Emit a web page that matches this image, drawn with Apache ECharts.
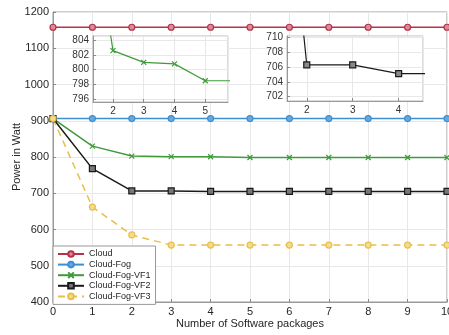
<!DOCTYPE html>
<html>
<head>
<meta charset="utf-8">
<script src="https://cdn.jsdelivr.net/npm/echarts@6/dist/echarts.min.js"></script>
<style>
  html, body { margin: 0; padding: 0; background: #fff; }
  #chart { width: 449px; height: 335px; }
</style>
</head>
<body>
<div id="chart"></div>
<script>
  // values
  const packages = [0, 1, 2, 3, 4, 5, 6, 7, 8, 9, 10];
  const cloud    = [1158, 1158, 1158, 1158, 1158, 1158, 1158, 1158, 1158, 1158, 1158];
  const cloudFog = [906, 906, 906, 906, 906, 906, 906, 906, 906, 906, 906];
  const vf1      = [906, 830, 802.6, 801.0, 800.8, 798.5, 798.5, 798.5, 798.5, 798.5, 798.5];
  const vf2      = [906, 768, 706.3, 706.3, 705.1, 705.1, 705.1, 705.1, 705.1, 705.1, 705.1];
  const vf3      = [906, 662, 585, 557, 557, 557, 557, 557, 557, 557, 557];
  const names    = ['Cloud', 'Cloud-Fog', 'Cloud-Fog-VF1', 'Cloud-Fog-VF2', 'Cloud-Fog-VF3'];

  const font = 'Liberation Sans, Arial, sans-serif';
  const xMark = 'path://M0,0L10,10M10,0L0,10';

  function pairs(ys) {
    return packages.map((x, i) => [x, ys[i]]);
  }

  function line(name, ys, color, symbol, fill, opts) {
    return Object.assign({
      name: name,
      type: 'line',
      data: pairs(ys),
      symbol: symbol,
      symbolSize: 6,
      lineStyle: { color: color, width: 1.5 },
      itemStyle: { color: fill, borderColor: color, borderWidth: 1.2 },
      emphasis: { disabled: true },
      animation: false
    }, opts || {});
  }

  const gridLine = { show: true, lineStyle: { color: '#e8e8e8', width: 1 } };
  const tick = { inside: true, length: 3, lineStyle: { color: '#888' } };
  const axLine = { show: true, lineStyle: { color: '#999' } };
  const plain = v => String(v);

  // inset axes: keep only whole-number labels
  const insetLabel = {
    fontFamily: font, fontSize: 10, color: '#333',
    showMinLabel: false, showMaxLabel: false,
    formatter: v => (Math.abs(v - Math.round(v)) < 1e-6 ? String(Math.round(v)) : '')
  };

  let myChart = echarts.init(document.getElementById('chart'), null, { renderer: 'canvas' });

  myChart.setOption({
    backgroundColor: '#fff',
    textStyle: { fontFamily: font },
    grid: [
      { left: 53, top: 12, width: 394, height: 290, outerBoundsMode: 'none', containLabel: false,
        show: true, borderColor: '#999', borderWidth: 1, backgroundColor: '#fff' },
      { left: 93, top: 36, width: 135, height: 66, outerBoundsMode: 'none', containLabel: false,
        show: true, borderColor: '#bbb', borderWidth: 1, backgroundColor: '#fff', z: 5 },
      { left: 287, top: 36, width: 136, height: 65, outerBoundsMode: 'none', containLabel: false,
        show: true, borderColor: '#bbb', borderWidth: 1, backgroundColor: '#fff', z: 5 }
    ],
    xAxis: [
      {
        gridIndex: 0, type: 'value', min: 0, max: 10, interval: 1,
        name: 'Number of Software packages', nameLocation: 'middle', nameGap: 16, nameMoveOverlap: false,
        nameTextStyle: { fontFamily: font, fontSize: 11, color: '#262626' },
        axisLine: axLine, axisTick: tick, splitLine: gridLine,
        axisLabel: { fontFamily: font, fontSize: 11, color: '#262626', margin: 4, formatter: plain }
      },
      {
        gridIndex: 1, type: 'value', min: 1.35, max: 5.74, splitNumber: 4, z: 6,
        axisLine: axLine, axisTick: tick, splitLine: gridLine,
        axisLabel: Object.assign({ margin: 4 }, insetLabel)
      },
      {
        gridIndex: 2, type: 'value', min: 1.57, max: 4.53, splitNumber: 3, z: 6,
        axisLine: axLine, axisTick: tick, splitLine: gridLine,
        axisLabel: Object.assign({ margin: 4 }, insetLabel)
      }
    ],
    yAxis: [
      {
        gridIndex: 0, type: 'value', min: 400, max: 1200, interval: 100,
        name: 'Power in Watt', nameLocation: 'middle', nameGap: 31, nameMoveOverlap: false,
        nameTextStyle: { fontFamily: font, fontSize: 11, color: '#262626' },
        axisLine: axLine, axisTick: tick, splitLine: gridLine,
        axisLabel: { fontFamily: font, fontSize: 11, color: '#262626', margin: 4, formatter: plain }
      },
      {
        gridIndex: 1, type: 'value', min: 795.6, max: 804.6, splitNumber: 5, z: 6,
        axisLine: axLine, axisTick: tick, splitLine: gridLine,
        axisLabel: Object.assign({ margin: 4 }, insetLabel)
      },
      {
        gridIndex: 2, type: 'value', min: 701.4, max: 710.2, splitNumber: 5, z: 6,
        axisLine: axLine, axisTick: tick, splitLine: gridLine,
        axisLabel: Object.assign({ margin: 4 }, insetLabel)
      }
    ],
    legend: {
      data: names,
      orient: 'vertical',
      left: 53, top: 246,
      padding: [3, 5, 3, 4],
      itemGap: 0.6,
      itemWidth: 26, itemHeight: 7,
      backgroundColor: '#fff',
      borderColor: '#999', borderWidth: 1, borderRadius: 0,
      textStyle: { fontFamily: font, fontSize: 9, color: '#262626', lineHeight: 10 },
      selectedMode: false
    },
    series: [
      line('Cloud', cloud, '#b5324a', 'circle', '#d98b99'),
      line('Cloud-Fog', cloudFog, '#3d8fd0', 'circle', '#6aa8dc'),
      line('Cloud-Fog-VF1', vf1, '#3f9a3a', xMark, '#3f9a3a', { symbolSize: 5 }),
      line('Cloud-Fog-VF2', vf2, '#1a1a1a', 'rect', '#777'),
      line('Cloud-Fog-VF3', vf3, '#e8bf4a', 'circle', '#f3dc90', {
        lineStyle: { color: '#e8bf4a', width: 1.5, type: [7, 5] }
      }),
      // zoomed insets
      line('VF1 inset', vf1, '#3f9a3a', xMark, '#3f9a3a', { xAxisIndex: 1, yAxisIndex: 1, symbolSize: 5, z: 8, clip: true, lineStyle: { color: '#3f9a3a', width: 1.2 } }),
      line('VF2 inset', vf2, '#1a1a1a', 'rect', '#888', { xAxisIndex: 2, yAxisIndex: 2, z: 8, clip: true, lineStyle: { color: '#1a1a1a', width: 1.2 } })
    ]
  });
</script>
</body>
</html>
